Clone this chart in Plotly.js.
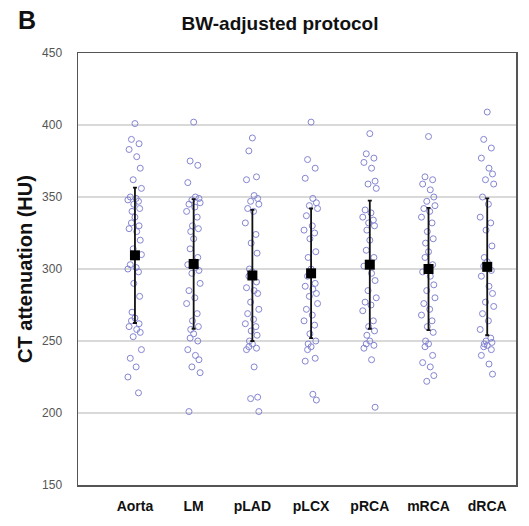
<!DOCTYPE html>
<html>
<head>
<meta charset="utf-8">
<script src="https://cdn.plot.ly/plotly-3.0.1.min.js"></script>
<style>html,body{margin:0;padding:0;background:#fff;}#chart{width:529px;height:526px;}</style>
</head>
<body>
<div id="chart"></div>
<script>
// ---- data ----
var categories = ["Aorta", "LM", "pLAD", "pLCX", "pRCA", "mRCA", "dRCA"];
var means = [309.5, 303.5, 295.5, 297, 303, 300, 301.5];
var sds = [47, 45, 45.5, 45, 44.5, 42.5, 47.5];

var aorta = [401, 390, 387, 383, 378, 370, 362, 356, 350, 349, 348, 347, 345, 342, 340, 336, 332, 330, 328, 326, 320, 314, 310, 303, 301, 300, 298, 290, 281, 270, 266, 264, 262, 260, 258, 256, 253, 244, 238, 232, 225, 214];
var lm = [402, 375, 372, 360, 350, 349, 348, 346, 345, 343, 340, 336, 330, 328, 326, 321, 314, 308, 303, 301, 299, 297, 290, 285, 280, 276, 269, 264, 260, 258, 255, 252, 250, 244, 240, 237, 232, 228, 201];
var plad = [391, 382, 364, 362, 351, 349, 347, 345, 342, 340, 332, 324, 318, 311, 300, 298, 295, 291, 287, 285, 283, 277, 272, 269, 265, 262, 260, 257, 254, 250, 248, 246, 245, 244, 232, 211, 210, 201];
var plcx = [402, 376, 370, 363, 349, 346, 344, 342, 337, 330, 327, 325, 321, 312, 308, 300, 295, 290, 288, 286, 283, 281, 276, 272, 268, 264, 261, 255, 250, 248, 246, 244, 238, 236, 213, 209];
var prca = [394, 380, 377, 374, 370, 361, 359, 356, 341, 339, 336, 334, 332, 330, 327, 320, 313, 308, 302, 297, 292, 285, 280, 277, 275, 271, 264, 260, 257, 254, 250, 248, 247, 245, 237, 204];
var mrca = [392, 364, 362, 359, 355, 350, 347, 344, 342, 340, 336, 332, 326, 321, 318, 312, 308, 303, 298, 295, 289, 285, 280, 276, 272, 268, 264, 260, 256, 250, 248, 246, 240, 235, 232, 226, 222];
var drca = [409, 390, 384, 377, 370, 366, 362, 359, 350, 345, 336, 332, 327, 316, 308, 305, 302, 299, 295, 288, 283, 277, 274, 269, 264, 258, 252, 250, 249, 248, 247, 246, 244, 240, 234, 227];

var yTicks = [150, 200, 250, 300, 350, 400, 450];

// ---- build ----
var groups = [aorta, lm, plad, plcx, prca, mrca, drca];
var spread = [0, -0.06, 0.07, -0.1, 0.03, 0.09, -0.03, 0.11, -0.08, 0.02, -0.12, 0.06, -0.02, 0.08, -0.05];
var px = [], py = [];
groups.forEach(function (g, gi) {
  g.forEach(function (v, i) {
    px.push(gi + spread[i % spread.length]);
    py.push(v);
  });
});
var idx = categories.map(function (c, i) { return i; });

var traces = [
  {
    type: "scatter", mode: "markers", x: px, y: py, hoverinfo: "y",
    marker: { symbol: "circle-open", size: 6, color: "#8585d2", line: { width: 1, color: "#8585d2" } },
    showlegend: false
  },
  {
    type: "scatter", mode: "markers", x: idx, y: means,
    error_y: { type: "data", array: sds, visible: true, color: "#111", thickness: 1.8, width: 2 },
    marker: { symbol: "square", size: 10, color: "#000" },
    showlegend: false
  }
];

var layout = {
  width: 529, height: 526,
  margin: { l: 78, r: 13, t: 53, b: 41 },
  paper_bgcolor: "#fff", plot_bgcolor: "#fff",
  font: { family: "Liberation Sans, Arial, sans-serif", color: "#222" },
  title: {
    text: "BW-adjusted protocol",
    font: { size: 19, weight: "bold", color: "#111" },
    xref: "container", yref: "container", x: 280 / 529, xanchor: "center", y: 1 - 23 / 526, yanchor: "middle"
  },
  xaxis: {
    range: [-0.97, 6.49], tickmode: "array", tickvals: idx, ticktext: categories,
    showgrid: false, zeroline: false, showline: true, mirror: true, linecolor: "#555", linewidth: 1.5,
    ticks: "", ticklabelstandoff: 8, tickfont: { size: 14, weight: "bold", color: "#111" }
  },
  yaxis: {
    range: [150, 450], tickmode: "array", tickvals: yTicks,
    showgrid: true, gridcolor: "#d9d9d9", gridwidth: 1.5, zeroline: false,
    showline: true, mirror: true, linecolor: "#555", linewidth: 1.5,
    ticks: "", ticklabelstandoff: 12, tickfont: { size: 12, color: "#555" },
    title: { text: "CT attenuation (HU)", font: { size: 20, weight: "bold", color: "#111" }, standoff: 4 }
  },
  annotations: [
    { text: "B", xref: "paper", yref: "paper", x: -0.142, y: 1.076, xanchor: "left", yanchor: "middle",
      showarrow: false, font: { size: 25, weight: "bold", color: "#111" } }
  ]
};

Plotly.newPlot("chart", traces, layout, { staticPlot: true, displayModeBar: false });
</script>
</body>
</html>
